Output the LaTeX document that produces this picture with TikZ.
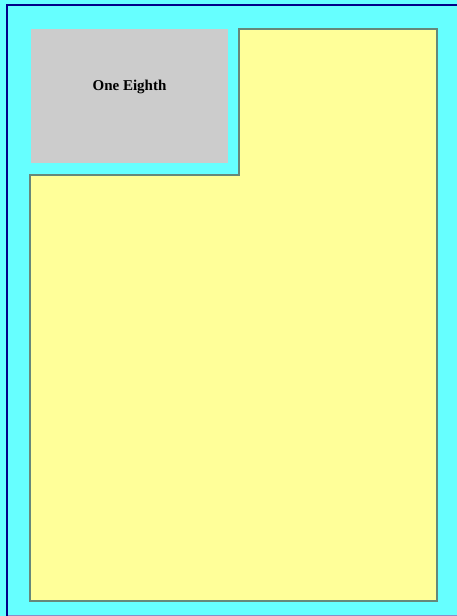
\documentclass[tikz,border=0pt]{standalone}
\usepackage{fontspec}
\setmainfont{Liberation Serif}
\usetikzlibrary{positioning}
\definecolor{pagefill}{HTML}{66FFFF}
\definecolor{pageline}{HTML}{000088}
\definecolor{partfill}{HTML}{FFFF99}
\definecolor{partline}{HTML}{66887A}
\definecolor{eighthfill}{HTML}{CCCCCC}
\tikzset{
  pagebg/.style    = {fill=pagefill},
  pageedge/.style  = {draw=pageline, line width=2.5pt},
  restpart/.style  = {fill=partfill, draw=partline, line width=1.4pt,
                      line join=miter},
  eighthbox/.style = {fill=eighthfill, inner sep=0pt,
                      minimum width=197pt, minimum height=134pt},
  eighthtxt/.style = {font=\fontsize{15}{18}\selectfont\bfseries,
                      inner sep=0pt},
}
\begin{document}
\begin{tikzpicture}[x=1pt, y=-1pt]
        \useasboundingbox (0,0) rectangle (457,616);
        \fill[pagebg] (0,0) rectangle (457,616);
        \draw[pageedge] (7,616) -- (7,5) -- (457,5);
        \draw[pageline!45, line width=1pt] (8,615.5) -- (457,615.5);

        % the rest of the page
        \draw[restpart] (239,29) -- (437,29) -- (437,601) -- (30,601)
             -- (30,175) -- (239,175) -- cycle;

        % the one eighth
        \node[eighthbox] (eighth) at (129.5,96) {};
        \node[eighthtxt, yshift=9pt] (eighthlbl) at (eighth.center) {One Eighth};
    \end{tikzpicture}
\end{document}
